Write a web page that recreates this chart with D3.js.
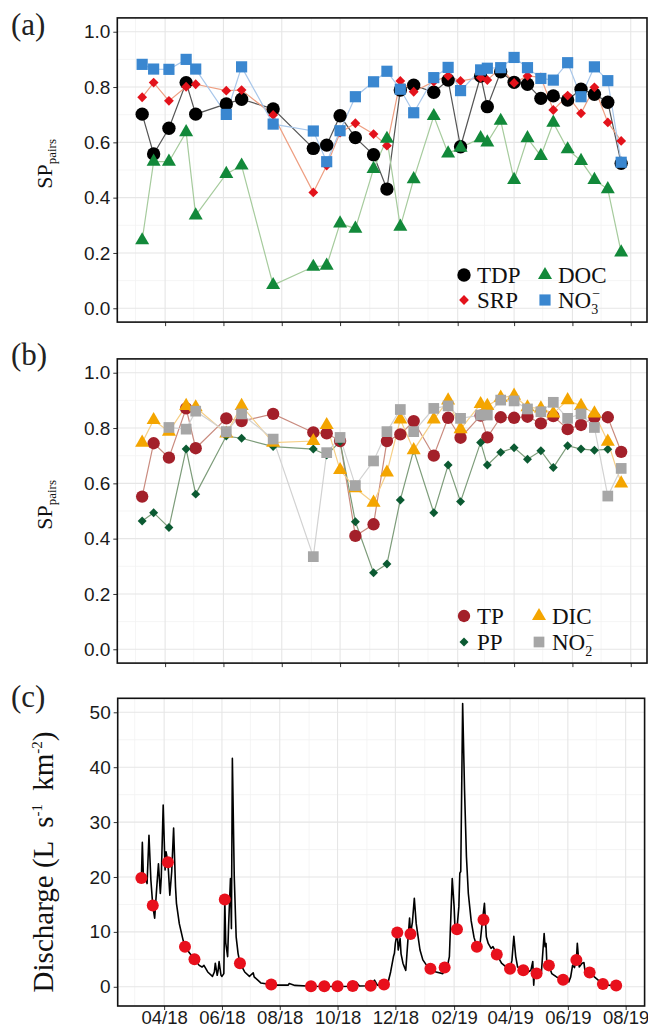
<!DOCTYPE html>
<html>
<head>
<meta charset="utf-8">
<script src="https://cdn.jsdelivr.net/npm/d3@7"></script>
<style>
  body { margin: 0; background: #fff; }
  svg { display: block; }
</style>
</head>
<body>
<svg id="chart"></svg>
<script>
// sampling dates (shared by all three panels)
const sampleDates = ["2018-03-08","2018-03-20","2018-04-05","2018-04-23","2018-05-03","2018-06-04","2018-06-20","2018-07-23",
  "2018-09-03","2018-09-17","2018-10-01","2018-10-17","2018-11-05","2018-11-19","2018-12-03","2018-12-17",
  "2019-01-07","2019-01-22","2019-02-04","2019-02-25","2019-03-04","2019-03-18","2019-04-01","2019-04-15",
  "2019-04-29","2019-05-12","2019-05-27","2019-06-10","2019-06-24","2019-07-08","2019-07-22"];

// panel (a)
const tdp = [0.702,0.558,0.651,0.816,0.702,0.739,0.756,0.721,0.578,0.590,0.696,0.617,0.555,0.431,0.789,0.807,
  0.781,0.825,0.584,0.840,0.729,0.855,0.817,0.810,0.759,0.768,0.753,0.792,0.774,0.745,0.524];
const srp = [0.763,0.816,0.750,0.801,0.810,0.787,0.789,0.699,0.419,0.516,0.635,0.669,0.630,0.588,0.822,0.783,
  0.820,0.840,0.822,0.834,0.825,0.870,0.815,0.840,0.835,0.717,0.769,0.705,0.799,0.672,0.605];
const doc = [0.246,0.530,0.530,0.637,0.336,0.486,0.516,0.084,0.150,0.154,0.307,0.288,0.504,0.613,0.295,0.467,
  0.695,0.560,0.581,0.615,0.600,0.678,0.464,0.615,0.551,0.671,0.575,0.533,0.464,0.431,0.202];
const no3 = [0.882,0.865,0.864,0.900,0.865,0.701,0.873,0.666,0.641,0.530,0.642,0.765,0.819,0.857,0.792,0.707,
  0.834,0.871,0.787,0.862,0.868,0.870,0.907,0.870,0.831,0.825,0.888,0.765,0.873,0.823,0.528];

// panel (b)
const tp = [0.552,0.745,0.693,0.871,0.727,0.835,0.825,0.851,0.784,0.781,0.753,0.410,0.452,0.753,0.777,0.825,
  0.700,0.837,0.765,0.845,0.766,0.839,0.837,0.841,0.817,0.843,0.796,0.811,0.839,0.839,0.714];
const pp = [0.464,0.494,0.440,0.724,0.561,0.771,0.763,0.733,0.724,0.702,0.751,0.461,0.277,0.308,0.540,0.720,
  0.494,0.666,0.534,0.748,0.666,0.712,0.729,0.687,0.718,0.657,0.736,0.724,0.720,0.723,null];
const dic = [0.747,0.829,0.787,0.880,0.875,0.780,0.880,0.747,0.753,0.811,0.648,0.582,0.530,0.639,0.831,0.720,
  0.831,0.900,0.796,0.887,0.880,0.910,0.917,0.875,0.871,0.853,0.901,0.880,0.853,0.751,0.600];
const no2 = [null,null,0.802,0.796,0.861,0.787,0.851,0.760,0.335,0.711,0.766,0.592,0.681,0.787,0.867,0.787,
  0.871,0.880,0.835,0.847,0.847,0.901,0.898,0.869,0.859,0.893,0.835,0.851,0.802,0.554,0.654];

// panel (c): discharge at sampling dates and the continuous record
const qSample = [19.8,14.8,22.7,7.3,5.0,15.9,4.3,0.4,0.1,0.1,0.1,0.15,0.2,0.4,9.9,9.6,3.3,3.5,10.5,7.3,12.2,5.9,
  3.3,3.0,2.4,3.9,1.3,4.9,2.6,0.5,0.25];
const qDates = ["2018-03-08","2018-03-09","2018-03-10","2018-03-12","2018-03-14","2018-03-16","2018-03-18","2018-03-20",
  "2018-03-22","2018-03-24","2018-03-26","2018-03-28","2018-03-29","2018-03-31","2018-04-02","2018-04-03","2018-04-05",
  "2018-04-07","2018-04-09","2018-04-11","2018-04-13","2018-04-14","2018-04-17","2018-04-21","2018-04-23","2018-04-28",
  "2018-05-03","2018-05-08","2018-05-11","2018-05-13","2018-05-17","2018-05-22","2018-05-24","2018-05-25","2018-05-27",
  "2018-05-28","2018-05-29","2018-05-31","2018-06-01","2018-06-03","2018-06-04","2018-06-05","2018-06-07","2018-06-08",
  "2018-06-10","2018-06-11","2018-06-12","2018-06-14","2018-06-16","2018-06-18","2018-06-20","2018-06-25","2018-06-30",
  "2018-07-04","2018-07-05","2018-07-12","2018-07-19","2018-07-23","2018-07-30","2018-08-10","2018-08-11","2018-08-17",
  "2018-09-03","2018-09-17","2018-10-01","2018-10-17","2018-10-21","2018-10-24","2018-11-05","2018-11-09","2018-11-12",
  "2018-11-19","2018-11-23","2018-11-26","2018-11-29","2018-11-30","2018-12-01","2018-12-03","2018-12-04","2018-12-06",
  "2018-12-07","2018-12-09","2018-12-11","2018-12-12","2018-12-14","2018-12-16","2018-12-17","2018-12-19","2018-12-21",
  "2018-12-23","2018-12-27","2018-12-30","2019-01-03","2019-01-07","2019-01-13","2019-01-20","2019-01-22","2019-01-24",
  "2019-01-27","2019-01-30","2019-02-01","2019-02-02","2019-02-04","2019-02-06","2019-02-07","2019-02-08","2019-02-10",
  "2019-02-12","2019-02-14","2019-02-16","2019-02-19","2019-02-22","2019-02-25","2019-02-28","2019-03-03","2019-03-05",
  "2019-03-07","2019-03-09","2019-03-12","2019-03-14","2019-03-18","2019-03-23","2019-03-28","2019-04-01","2019-04-03",
  "2019-04-05","2019-04-07","2019-04-09","2019-04-15","2019-04-20","2019-04-23","2019-04-25","2019-04-26","2019-04-27",
  "2019-04-29","2019-05-04","2019-05-07","2019-05-08","2019-05-09","2019-05-10","2019-05-12","2019-05-15","2019-05-20",
  "2019-05-27","2019-06-02","2019-06-04","2019-06-06","2019-06-08","2019-06-10","2019-06-11","2019-06-13","2019-06-16",
  "2019-06-18","2019-06-19","2019-06-24","2019-06-29","2019-07-08","2019-07-14","2019-07-22"];
const qValues = [19.8,26.3,20.7,20.0,18.8,27.6,19.5,14.8,
  12.5,17.6,22.4,17.0,20.0,33.1,21.3,24.6,22.7,
  16.7,21.0,28.9,18.2,15.2,11.5,8.5,7.3,6.1,
  5.0,3.9,3.6,3.9,2.7,1.9,2.7,4.3,2.1,
  3.0,4.6,2.1,1.9,2.4,15.9,8.0,5.5,11.0,
  19.7,10.6,41.6,20.0,9.1,6.1,4.3,2.7,1.9,
  2.55,1.8,0.7,0.5,0.4,0.3,0.3,0.6,0.25,
  0.1,0.05,0.05,0.1,0.8,0.15,0.2,1.2,0.3,
  0.4,0.6,2.7,5.5,6.1,7.9,9.9,6.7,8.8,
  6.0,4.3,3.4,3.0,7.9,12.5,9.6,11.8,16.1,
  11.5,6.7,4.9,3.9,3.3,2.7,2.4,3.0,3.0,
  5.5,19.7,14.6,10.3,10.5,14.6,20.7,21.0,51.6,
  35.8,23.7,17.0,12.0,9.0,7.3,7.3,12.2,15.2,
  9.1,7.9,7.0,7.3,5.9,4.3,3.6,3.3,4.8,
  9.2,5.5,3.6,3.0,2.7,3.0,4.6,0.3,3.0,
  2.4,2.4,9.7,7.3,7.9,3.6,3.9,2.4,1.8,
  1.3,0.9,1.8,3.9,3.5,4.9,7.9,3.6,4.3,
  4.4,3.0,2.6,1.8,0.5,0.3,0.25];

const xMajorTicks = ["2018-04-01","2018-06-01","2018-08-01","2018-10-01","2018-12-01","2019-02-01","2019-04-01","2019-06-01","2019-08-01"];
const xMinorTicks = ["2018-03-01","2018-05-01","2018-07-01","2018-09-01","2018-11-01","2019-01-01","2019-03-01","2019-05-01","2019-07-01"];
const spTicks = [0, 0.2, 0.4, 0.6, 0.8, 1.0];
const spMinor = [0.1, 0.3, 0.5, 0.7, 0.9];
const qTicks = [0, 10, 20, 30, 40, 50];
const qMinor = [5, 15, 25, 35, 45];

const width = 648, height = 1029;
const parse = d3.utcParse("%Y-%m-%d");
const dates = sampleDates.map(parse);
const sansFont = "'Liberation Sans', Arial, sans-serif";
const serifFont = "'Liberation Serif', 'Times New Roman', serif";

const svg = d3.select("#chart").attr("width", width).attr("height", height);

// symbols
const sym = {
  circle: a => d3.symbol(d3.symbolCircle, a)(),
  square: a => d3.symbol(d3.symbolSquare, a)(),
  triangle: a => d3.symbol(d3.symbolTriangle, a)(),
  diamond: a => d3.symbol(d3.symbolSquare, a)()
};

function frame(g, x, y, yMajor, yMinor, fmt, showXLabels) {
  const [x0, x1] = x.range();
  const [y0, y1] = y.range();
  // minor grid
  g.append("g").selectAll("line").data(xMinorTicks.map(parse)).join("line")
    .attr("x1", d => x(d)).attr("x2", d => x(d)).attr("y1", y1).attr("y2", y0)
    .attr("stroke", "#f2f2f2").attr("stroke-width", 0.8);
  g.append("g").selectAll("line").data(yMinor).join("line")
    .attr("x1", x0).attr("x2", x1).attr("y1", d => y(d)).attr("y2", d => y(d))
    .attr("stroke", "#f2f2f2").attr("stroke-width", 0.8);
  // major grid
  g.append("g").selectAll("line").data(xMajorTicks.map(parse)).join("line")
    .attr("x1", d => x(d)).attr("x2", d => x(d)).attr("y1", y1).attr("y2", y0)
    .attr("stroke", "#e6e6e6").attr("stroke-width", 1.1);
  g.append("g").selectAll("line").data(yMajor).join("line")
    .attr("x1", x0).attr("x2", x1).attr("y1", d => y(d)).attr("y2", d => y(d))
    .attr("stroke", "#e6e6e6").attr("stroke-width", 1.1);

  // axes
  const yAxis = d3.axisLeft(y).tickValues(yMajor).tickFormat(fmt).tickSize(4).tickPadding(3);
  const ya = g.append("g").attr("transform", `translate(${x0},0)`).call(yAxis);
  ya.select(".domain").remove();
  ya.selectAll("text").attr("font-family", sansFont).attr("font-size", 19).attr("fill", "#1a1a1a");
  ya.selectAll("line").attr("stroke", "#333");

  const xAxis = d3.axisBottom(x).tickValues(xMajorTicks.map(parse))
    .tickFormat(showXLabels ? d3.utcFormat("%m/%y") : "").tickSize(4).tickPadding(1);
  const xa = g.append("g").attr("transform", `translate(0,${y0})`).call(xAxis);
  xa.select(".domain").remove();
  xa.selectAll("text").attr("font-family", sansFont).attr("font-size", 18.5).attr("fill", "#1a1a1a");
  xa.selectAll("line").attr("stroke", "#333");
}

function border(g, x, y) {
  const [x0, x1] = x.range();
  const [y0, y1] = y.range();
  g.append("rect").attr("x", x0).attr("y", y1).attr("width", x1 - x0).attr("height", y0 - y1)
    .attr("fill", "none").attr("stroke", "#111").attr("stroke-width", 1.6);
}

function spPanel(top, series, legendPos) {
  const g = svg.append("g");
  const x = d3.scaleUtc().domain([parse("2018-02-10"), parse("2019-08-18")]).range([117.3, 647]);
  const y = d3.scaleLinear().domain([-0.05, 1.05]).range([top + 304.2, top]);
  frame(g, x, y, spTicks, spMinor, d3.format(".1f"), false);

  const line = d3.line().x(d => x(d.t)).y(d => y(d.v));
  series.forEach(s => {
    const pts = dates.map((t, i) => ({ t, v: s.values[i] }));
    g.append("path").datum(pts.filter(d => d.v !== null)).attr("d", line)
      .attr("fill", "none").attr("stroke", s.line).attr("stroke-width", 1.2);
  });
  series.forEach(s => {
    const pts = dates.map((t, i) => ({ t, v: s.values[i] })).filter(d => d.v !== null);
    g.append("g").selectAll("path").data(pts).join("path")
      .attr("d", sym[s.shape](s.size))
      .attr("transform", d => `translate(${x(d.t)},${y(d.v)})` + (s.shape === "diamond" ? " rotate(45)" : ""))
      .attr("fill", s.color);
  });
  border(g, x, y);

  // legend, two columns
  series.forEach((s, i) => {
    const col = Math.floor(i / 2), row = i % 2;
    const lx = legendPos.cols[col], ly = legendPos.rows[row];
    g.append("path").attr("d", sym[s.shape](s.size))
      .attr("transform", `translate(${lx},${ly})` + (s.shape === "diamond" ? " rotate(45)" : ""))
      .attr("fill", s.color);
    const t = g.append("text").attr("x", lx + 13).attr("y", ly + 8)
      .attr("font-family", serifFont).attr("font-size", 23).attr("fill", "#111");
    t.append("tspan").text(s.label);
    if (s.sub) {
      t.append("tspan").attr("font-size", 14).attr("dy", 6).text(s.sub);
      t.append("tspan").attr("font-size", 14).attr("dy", -16).attr("dx", -6).text("\u2212");
    }
  });

  // y title
  const ty = top + 146;
  const title = g.append("text").attr("transform", `translate(52,${ty}) rotate(-90)`)
    .attr("text-anchor", "middle").attr("font-family", serifFont).attr("font-size", 22).attr("fill", "#111");
  title.append("tspan").text("SP");
  title.append("tspan").attr("font-size", 13).attr("dy", 4).text("pairs");
  return g;
}

spPanel(17.9, [
  { label: "TDP", values: tdp, shape: "circle", size: 140, color: "#000000", line: "#555555" },
  { label: "SRP", values: srp, shape: "diamond", size: 48, color: "#e3121b", line: "#ee9f82" },
  { label: "DOC", values: doc, shape: "triangle", size: 85, color: "#12893a", line: "#a6cb9d" },
  { label: "NO", sub: "3", values: no3, shape: "square", size: 125, color: "#3a87d0", line: "#a9c7ea" }
], { cols: [464, 545], rows: [275, 300] });

spPanel(358.9, [
  { label: "TP", values: tp, shape: "circle", size: 120, color: "#a3202a", line: "#c98b7f" },
  { label: "PP", values: pp, shape: "diamond", size: 40, color: "#0b5a32", line: "#7d9c7a" },
  { label: "DIC", values: dic, shape: "triangle", size: 85, color: "#f4a500", line: "#f6cf86" },
  { label: "NO", sub: "2", values: no2, shape: "square", size: 115, color: "#a6a6a6", line: "#d2d2d2" }
], { cols: [464, 539], rows: [616, 642] });

// panel (c)
{
  const g = svg.append("g");
  const x = d3.scaleUtc().domain([parse("2018-02-11"), parse("2019-08-21")]).range([117.7, 644.6]);
  const y = d3.scaleLinear().domain([-3.5, 52.55]).range([1006, 698.3]);
  frame(g, x, y, qTicks, qMinor, d3.format("d"), true);

  const q = qDates.map((d, i) => ({ t: parse(d), v: qValues[i] }));
  g.append("path").datum(q)
    .attr("d", d3.line().x(d => x(d.t)).y(d => y(d.v)))
    .attr("fill", "none").attr("stroke", "#000").attr("stroke-width", 1.6).attr("stroke-linejoin", "round");

  g.append("g").selectAll("circle").data(dates.map((t, i) => ({ t, v: qSample[i] }))).join("circle")
    .attr("cx", d => x(d.t)).attr("cy", d => y(d.v)).attr("r", 6).attr("fill", "#e8101c");
  border(g, x, y);

  const title = g.append("text").attr("transform", `translate(53,862) rotate(-90)`)
    .attr("text-anchor", "middle").attr("font-family", serifFont).attr("font-size", 29).attr("fill", "#111");
  title.append("tspan").text("Discharge (L\u2009 s");
  title.append("tspan").attr("font-size", 15).attr("dy", -11).text("-1");
  title.append("tspan").attr("dy", 11).text("\u2009 km");
  title.append("tspan").attr("font-size", 15).attr("dy", -11).text("-2");
  title.append("tspan").attr("dy", 11).text(")");
}

// panel letters
[["(a)", 35], ["(b)", 365], ["(c)", 707]].forEach(([t, yy]) => {
  svg.append("text").attr("x", 11).attr("y", yy).attr("font-family", serifFont)
    .attr("font-size", 31).attr("fill", "#222").text(t);
});
</script>
</body>
</html>
